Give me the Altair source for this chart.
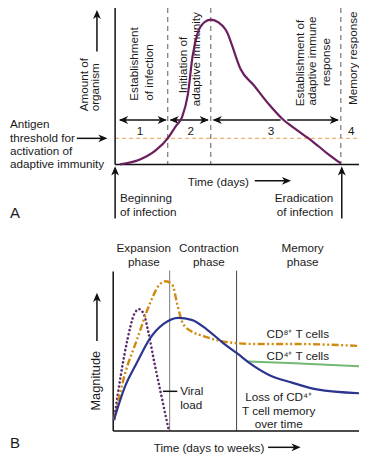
import altair as alt
import pandas as pd

# Diagram coordinates (x to the right, y downward, in reference-image units)
# ---- Panel A: amount of organism over time
a_x = [117, 138, 155, 167, 175, 182, 188, 193, 198, 205, 212, 220, 230, 234, 243, 257, 273, 287, 300, 317, 333, 348]
a_y = [162, 157, 147, 135, 123, 113, 90, 50, 27, 15, 12, 15, 27, 38, 63, 80, 100, 115, 125, 137, 150, 161]

# ---- Panel B: magnitude of response
viral_x = [111, 118, 125, 132, 137, 142, 147, 153, 160, 168]
viral_y = [426, 380, 343, 317, 312, 317, 337, 367, 400, 437]
cd8_x = [111, 122, 135, 148, 158, 165, 172, 177, 183, 192, 205, 222, 238, 260, 300, 367]
cd8_y = [426, 380, 343, 307, 287, 283, 287, 307, 327, 335, 340, 345, 347, 348, 348, 350]
cd4_x = [111, 122, 135, 148, 163, 178, 192, 208, 225, 240, 253, 273, 297, 323, 367]
cd4_y = [426, 393, 367, 343, 327, 321, 323, 333, 347, 358, 368, 380, 388, 395, 399]
green_x = [250, 300, 367]
green_y = [366, 368, 371]

# phase boundaries
a_bounds = [167, 212, 348]
threshold_y = 135

# solid black segments: x, y, x2, y2
seg_x = [112, 112, 93, 72, 117, 170, 215, 292, 258, 112, 349, 110, 110, 93, 272, 162]
seg_y = [0, 162, 45, 135, 116, 116, 116, 116, 179, 218, 218, 273, 438, 345, 455, 397]
seg_x2 = [112, 367, 93, 100, 165, 209, 285, 345, 292, 112, 349, 110, 367, 93, 302, 177]
seg_y2 = [162, 162, 6, 135, 116, 116, 116, 116, 179, 168, 168, 438, 438, 300, 455, 397]

# arrow heads: tip x, tip y, direction (deg clockwise from up)
head_x = [93, 104, 116, 166, 169, 210, 214, 346, 296, 112, 349, 93, 306]
head_y = [2, 135, 116, 116, 116, 116, 116, 116, 179, 164, 164, 295, 455]
head_a = [0, 90, 270, 90, 270, 90, 270, 90, 90, 0, 0, 0, 90]

# texts
c_text = ["1", "2", "3", "4", "Expansion", "phase", "Contraction", "phase", "Memory", "phase",
          "CD⁸⁺  T cells", "CD⁴⁺  T cells", "Loss of CD⁴⁺", "T cell memory", "over time"]
c_x = [138, 191, 275, 359, 142, 142, 210, 210, 308, 308, 303, 303, 283, 283, 283]
c_y = [127, 127, 127, 127, 249, 263, 249, 263, 249, 263, 338, 360, 403, 417, 431]

l_text = ["Antigen", "threshold for", "activation of", "adaptive immunity",
          "Beginning", "of infection", "Viral", "load"]
l_x = [2, 2, 2, 2, 117, 117, 180, 180]
l_y = [120, 135, 148, 162, 197, 211, 397, 411]

r_text = ["Eradication", "of infection", "Time (days)", "Time (days to weeks)"]
r_x = [340, 340, 252, 268]
r_y = [197, 211, 180, 456]

rc_text = ["Initiation of", "adaptive immunity", "Establishment of", "adaptive immune",
           "response", "Memory response"]
rc_x = [183, 197, 305, 318, 332, 361]
rc_y = [59, 53, 57, 55, 56, 52]

mag_text = ["Magnitude"]
mag_x = [92]
mag_y = [386]

rl_text = ["Amount of", "organism", "Establishment", "of infection"]
rl_x = [79, 91, 132, 147]
rl_y = [107, 107, 96, 96]

big_text = ["A", "B"]
big_x = [2, 2]
big_y = [212, 451]

# ---------------------------------------------------------------
xs = alt.Scale(domain=[0, 367], nice=False, zero=False)
ys = alt.Scale(domain=[0, 464], nice=False, zero=False, reverse=True)
X = alt.X("x:Q", scale=xs, axis=None)
Y = alt.Y("y:Q", scale=ys, axis=None)
FONT = "Liberation Sans"
FS = 11.7


def curve(xv, yv):
    return pd.DataFrame({"x": xv, "y": yv, "i": list(range(len(xv)))})


def line_layer(df, **kw):
    return alt.Chart(df).mark_line(interpolate="monotone", **kw).encode(
        x=X, y=Y, order=alt.Order("i:Q"))


segs = pd.DataFrame({"x": seg_x, "y": seg_y, "x2": seg_x2, "y2": seg_y2})
seg_layer = alt.Chart(segs).mark_rule(color="#111111", strokeWidth=1.5).encode(
    x=X, y=Y, x2=alt.X2("x2:Q"), y2=alt.Y2("y2:Q"))

bounds_df = pd.DataFrame({"x": a_bounds, "y": [0] * 3, "y2": [162] * 3})
bounds_layer = alt.Chart(bounds_df).mark_rule(
    color="#777777", strokeWidth=1.2, strokeDash=[5, 4]).encode(x=X, y=Y, y2=alt.Y2("y2:Q"))

thr_df = pd.DataFrame({"x": [112], "x2": [367], "y": [threshold_y]})
thr_layer = alt.Chart(thr_df).mark_rule(
    color="#f0b070", strokeWidth=1.2, strokeDash=[4, 3]).encode(x=X, x2=alt.X2("x2:Q"), y=Y)

phase_df = pd.DataFrame({"x": [169, 239], "y": [272, 272], "y2": [438, 438], "c": ["a", "b"]})
phase1 = alt.Chart(phase_df[phase_df.c == "a"]).mark_rule(color="#8a8a8a", strokeWidth=1.1).encode(
    x=X, y=Y, y2=alt.Y2("y2:Q"))
phase2 = alt.Chart(phase_df[phase_df.c == "b"]).mark_rule(color="#444444", strokeWidth=1.0).encode(
    x=X, y=Y, y2=alt.Y2("y2:Q"))

heads = pd.DataFrame({"x": head_x, "y": head_y, "a": head_a})
head_layer = alt.Chart(heads).mark_point(
    shape="M0,0L0.75,1.75L0,1.25L-0.75,1.75Z", filled=True, fill="#111111",
    strokeWidth=0, size=110, opacity=1).encode(
    x=X, y=Y, angle=alt.Angle("a:Q", scale=None))


def text_layer(tv, xv, yv, size=FS, **kw):
    df = pd.DataFrame({"x": xv, "y": yv, "t": tv})
    return alt.Chart(df).mark_text(font=FONT, fontSize=size, color="#1a1a1a",
                                   baseline="middle", **kw).encode(x=X, y=Y, text="t:N")


texts = [
    text_layer(c_text, c_x, c_y, align="center"),
    text_layer(l_text, l_x, l_y, align="left"),
    text_layer(r_text, r_x, r_y, align="right"),
    text_layer(rc_text, rc_x, rc_y, align="center", angle=270),
    text_layer(mag_text, mag_x, mag_y, size=12.8, align="center", angle=270),
    text_layer(rl_text, rl_x, rl_y, align="left", angle=270),
    text_layer(big_text, big_x, big_y, size=15, align="left"),
]

curve_a = line_layer(curve(a_x, a_y), color="#6b1e5e", strokeWidth=2.2)
viral = line_layer(curve(viral_x, viral_y), color="#5c2d6e", strokeWidth=2.6,
                   strokeDash=[0.1, 4], strokeCap="round")
cd8 = line_layer(curve(cd8_x, cd8_y), color="#d08a10", strokeWidth=2.4,
                 strokeDash=[7, 2.5, 2, 2.5, 2, 2.5])
green = line_layer(curve(green_x, green_y), color="#72b872", strokeWidth=2)
cd4 = line_layer(curve(cd4_x, cd4_y), color="#2b3590", strokeWidth=2.2)

chart = alt.layer(
    bounds_layer, thr_layer, phase1, phase2, *texts,
    seg_layer, head_layer, curve_a, viral, cd8, green, cd4,
).properties(width=351, height=448, padding=0,
             autosize=alt.AutoSizeParams(type="none")).configure_view(stroke=None)

chart.save("out.html", embed_options={"renderer": "svg", "actions": False})
